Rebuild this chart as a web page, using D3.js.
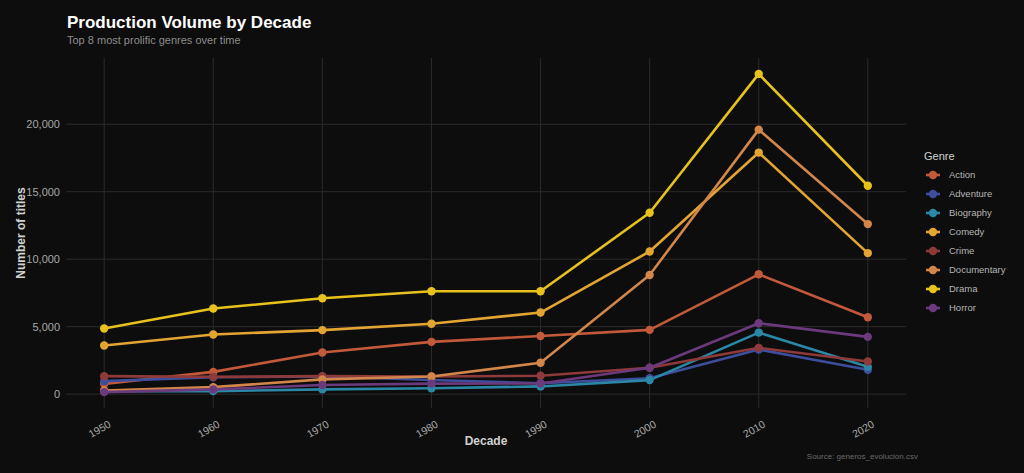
<!DOCTYPE html>
<html>
<head>
<meta charset="utf-8">
<script src="https://cdn.jsdelivr.net/npm/d3@7"></script>
<style>
  body { margin: 0; background: #0d0d0d; }
  svg { display: block; font-family: "Liberation Sans", Arial, sans-serif; }
</style>
</head>
<body>
<div id="chart"></div>
<script>
const decades = [1950, 1960, 1970, 1980, 1990, 2000, 2010, 2020];
const genres = ["Action", "Adventure", "Biography", "Comedy", "Crime", "Documentary", "Drama", "Horror"];
const colors = ["#c2593b", "#3d4f9c", "#2b87a6", "#e3a532", "#8e3a3a", "#d2864a", "#e8c21c", "#6b3a7d"];

const action      = [760, 1650, 3085, 3870, 4310, 4760, 8880, 5700];
const adventure   = [960, 1250, 1300, 1050, 800, 1180, 3300, 1800];
const biography   = [210, 220, 350, 440, 570, 1040, 4560, 2020];
const comedy      = [3600, 4420, 4740, 5220, 6045, 10570, 17900, 10450];
const crime       = [1330, 1280, 1330, 1300, 1360, 1950, 3430, 2420];
const documentary = [270, 520, 1090, 1310, 2320, 8830, 19600, 12600];
const drama       = [4860, 6340, 7100, 7620, 7620, 13440, 23730, 15440];
const horror      = [150, 350, 670, 780, 790, 1950, 5250, 4240];
const yTicks = [0, 5000, 10000, 15000, 20000];

const seriesValues = [action, adventure, biography, comedy, crime, documentary, drama, horror];
const series = genres.map((g, i) => ({ name: g, color: colors[i], values: seriesValues[i] }));

const W = 1024, H = 473;
const panel = { left: 66, right: 906, top: 58, bottom: 408 };

const svg = d3.select("#chart").append("svg")
    .attr("width", W)
    .attr("height", H);

svg.append("rect").attr("width", W).attr("height", H).attr("fill", "#0d0d0d");

// scales with ggplot-like 5% expansion
const xExt = d3.extent(decades);
const xPad = (xExt[1] - xExt[0]) * 0.05;
const x = d3.scaleLinear()
    .domain([xExt[0] - xPad, xExt[1] + xPad])
    .range([panel.left, panel.right]);

const allVals = seriesValues.flat();
const yMin = d3.min(allVals), yMax = d3.max(allVals);
const yPad = (yMax - yMin) * 0.05;
const y = d3.scaleLinear()
    .domain([yMin - yPad, yMax + yPad])
    .range([panel.bottom, panel.top]);

// grid
const grid = svg.append("g");
grid.selectAll(".hg").data(yTicks).join("line")
    .attr("x1", panel.left).attr("x2", panel.right)
    .attr("y1", d => y(d)).attr("y2", d => y(d))
    .attr("stroke", "#2b2b2b").attr("stroke-width", 1);
grid.selectAll(".vg").data(decades).join("line")
    .attr("x1", d => x(d)).attr("x2", d => x(d))
    .attr("y1", panel.top).attr("y2", panel.bottom)
    .attr("stroke", "#2b2b2b").attr("stroke-width", 1);

// axes
const yAxis = svg.append("g")
    .attr("transform", `translate(${panel.left},0)`)
    .call(d3.axisLeft(y).tickValues(yTicks).tickFormat(d3.format(",")).tickSize(0).tickPadding(6));
yAxis.select(".domain").remove();
yAxis.selectAll("text").attr("fill", "#a8a8a8").style("font-size", "11px");

const xAxis = svg.append("g")
    .attr("transform", `translate(0,${panel.bottom})`)
    .call(d3.axisBottom(x).tickValues(decades).tickFormat(d3.format("d")).tickSize(0).tickPadding(6));
xAxis.select(".domain").remove();
xAxis.selectAll("text")
    .attr("fill", "#a8a8a8")
    .style("font-size", "10.5px")
    .attr("text-anchor", "end")
    .attr("dy", "0.35em")
    .attr("transform", "translate(2,10) rotate(-30)");

// lines
const line = d3.line()
    .x((d, i) => x(decades[i]))
    .y(d => y(d));

svg.append("g").selectAll("path").data(series).join("path")
    .attr("d", d => line(d.values))
    .attr("fill", "none")
    .attr("stroke", d => d.color)
    .attr("stroke-width", 2.6)
    .attr("stroke-linejoin", "round");

const pts = svg.append("g");
series.forEach(s => {
    pts.selectAll(null).data(s.values).join("circle")
        .attr("cx", (d, i) => x(decades[i]))
        .attr("cy", d => y(d))
        .attr("r", 4.2)
        .attr("fill", s.color);
});

// titles
svg.append("text").attr("x", 67).attr("y", 28)
    .attr("fill", "#ffffff").style("font-size", "17px").style("font-weight", "bold")
    .text("Production Volume by Decade");
svg.append("text").attr("x", 67).attr("y", 44)
    .attr("fill", "#8c8c8c").style("font-size", "11px")
    .text("Top 8 most prolific genres over time");

svg.append("text")
    .attr("x", (panel.left + panel.right) / 2).attr("y", 445)
    .attr("text-anchor", "middle")
    .attr("fill", "#d0d0d0").style("font-size", "12px").style("font-weight", "bold")
    .text("Decade");

svg.append("text")
    .attr("transform", `translate(25,${(panel.top + panel.bottom) / 2}) rotate(-90)`)
    .attr("text-anchor", "middle")
    .attr("fill", "#d0d0d0").style("font-size", "12px").style("font-weight", "bold")
    .text("Number of titles");

svg.append("text")
    .attr("x", 918).attr("y", 459)
    .attr("text-anchor", "end")
    .attr("fill", "#6a6a6a").style("font-size", "8px")
    .text("Source: generos_evolucion.csv");

// legend
const legend = svg.append("g").attr("transform", "translate(923,0)");
legend.append("text").attr("x", 1).attr("y", 160)
    .attr("fill", "#d0d0d0").style("font-size", "11px")
    .text("Genre");
const item = legend.selectAll(".item").data(series).join("g")
    .attr("transform", (d, i) => `translate(0,${175 + i * 19})`);
item.append("line")
    .attr("x1", 3).attr("x2", 17).attr("y1", 0).attr("y2", 0)
    .attr("stroke", d => d.color).attr("stroke-width", 2.6);
item.append("circle").attr("cx", 10).attr("cy", 0).attr("r", 4.2)
    .attr("fill", d => d.color);
item.append("text").attr("x", 26).attr("y", 0).attr("dy", "0.35em")
    .attr("fill", "#b5b5b5").style("font-size", "9.5px")
    .text(d => d.name);
</script>
</body>
</html>
